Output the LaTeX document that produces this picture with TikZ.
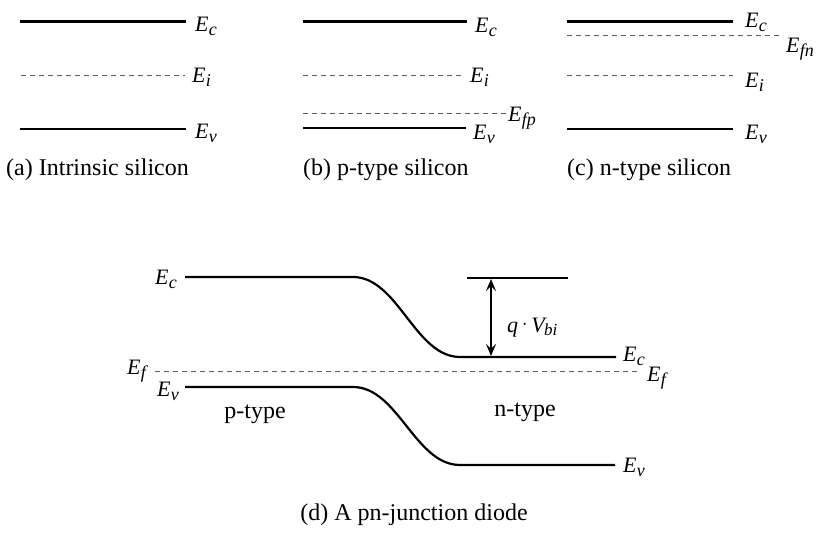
\documentclass[tikz,border=0pt]{standalone}
\usepackage{fontspec}
\setmainfont{Liberation Serif}
\usetikzlibrary{arrows.meta}
\newcommand{\Elab}[1]{{\fontsize{22}{22}\selectfont\itshape E\kern0.3pt\raisebox{-3.5pt}{\fontsize{18}{18}\selectfont #1}}}
\tikzset{
  band/.style={line width=2.2pt, line cap=butt},
  fermi/.style={line width=1pt, gray!70!black, dash pattern=on 5pt off 4pt},
  elabel/.style={anchor=base west, inner sep=0pt},
  caption/.style={anchor=base west, inner sep=0pt, font=\fontsize{24}{24}\selectfont},
  ctext/.style={anchor=base, inner sep=0pt, font=\fontsize{24}{24}\selectfont},
  dimarrow/.style={line width=1.5pt, >={Stealth[length=12pt,width=10pt,inset=5pt]}, <->},
}
\begin{document}
\begin{tikzpicture}[x=1pt,y=-1pt]
\useasboundingbox (0,0) rectangle (828,534);
% (a)
\coordinate (a1) at (20,21.5); \coordinate (a2) at (186,21.5);
\coordinate (a3) at (21,76);   \coordinate (a4) at (185,76);
\coordinate (a5) at (20,129);  \coordinate (a6) at (186,129);
\draw[band] (a1) -- (a2);
\draw[fermi] (a3) -- (a4);
\draw[band] (a5) -- (a6);
\node[elabel] (aEc) at (195,32) {\Elab{c}};
\node[elabel] (aEi) at (192,83) {\Elab{i}};
\node[elabel] (aEv) at (195,139) {\Elab{v}};
\node[caption] (capa) at (6,176) {(a) Intrinsic silicon};
% (b)
\coordinate (b1) at (303,21.5); \coordinate (b2) at (467,21.5);
\coordinate (b3) at (303,76);   \coordinate (b4) at (465,76);
\coordinate (b5) at (303,114);  \coordinate (b6) at (507,114);
\coordinate (b7) at (303,128);  \coordinate (b8) at (466,128);
\draw[band] (b1) -- (b2);
\draw[fermi] (b3) -- (b4);
\draw[fermi] (b5) -- (b6);
\draw[band] (b7) -- (b8);
\node[elabel] (bEc) at (475,33) {\Elab{c}};
\node[elabel] (bEi) at (470,83) {\Elab{i}};
\node[elabel] (bEf) at (508,122) {\Elab{fp}};
\node[elabel] (bEv) at (473,140) {\Elab{v}};
\node[caption] (capb) at (303,176) {(b) p-type silicon};
% (c)
\coordinate (c1) at (567,21.5); \coordinate (c2) at (733,21.5);
\coordinate (c3) at (567,36);   \coordinate (c4) at (783,36);
\coordinate (c5) at (567,76);   \coordinate (c6) at (733,76);
\coordinate (c7) at (567,129);  \coordinate (c8) at (733,129);
\draw[band] (c1) -- (c2);
\draw[fermi] (c3) -- (c4);
\draw[fermi] (c5) -- (c6);
\draw[band] (c7) -- (c8);
\node[elabel] (cEc) at (745,28) {\Elab{c}};
\node[elabel] (cEf) at (786,53) {\Elab{fn}};
\node[elabel] (cEi) at (745,88) {\Elab{i}};
\node[elabel] (cEv) at (745,140) {\Elab{v}};
\node[caption] (capc) at (567,176) {(c) n-type silicon};
% (d)
\coordinate (dc1) at (185,277); \coordinate (dc2) at (353,277);
\coordinate (dc3) at (460,357); \coordinate (dc4) at (616,357);
\coordinate (dv1) at (185,387); \coordinate (dv2) at (353,387);
\coordinate (dv3) at (460,465); \coordinate (dv4) at (615,465);
\coordinate (df1) at (155,372); \coordinate (df2) at (637,372);
\draw[band] (dc1) -- (dc2) .. controls (398,277) and (415,357) .. (dc3) -- (dc4);
\draw[band] (dv1) -- (dv2) .. controls (398,387) and (415,465) .. (dv3) -- (dv4);
\draw[fermi] (df1) -- (df2);
\coordinate (t1) at (467,278); \coordinate (t2) at (568,278);
\draw[line width=1.6pt] (t1) -- (t2);
\coordinate (ar1) at (491,279); \coordinate (ar2) at (491,356);
\draw[dimarrow] (ar1) -- (ar2);
\node[elabel] (qv) at (507,333) {\fontsize{22}{22}\selectfont\itshape q\/\,\raisebox{3pt}{$\cdot$}\,V\kern-0.5pt\raisebox{-3pt}{\fontsize{17}{17}\selectfont bi}};
\node[elabel] (dEcl) at (155,285) {\Elab{c}};
\node[elabel] (dEfl) at (127,375) {\Elab{f}};
\node[elabel] (dEvl) at (157,397) {\Elab{v}};
\node[elabel] (dEcr) at (623,362) {\Elab{c}};
\node[elabel] (dEfr) at (647,382) {\Elab{f}};
\node[elabel] (dEvr) at (623,473) {\Elab{v}};
\node[ctext] (pt) at (255,419) {p-type};
\node[ctext] (nt) at (525,417) {n-type};
\node[ctext] (capd) at (414,521) {(d) A pn-junction diode};
\end{tikzpicture}
\end{document}
